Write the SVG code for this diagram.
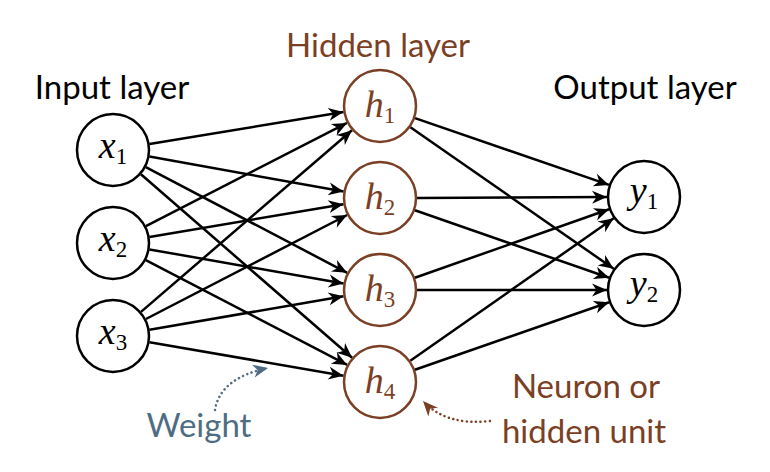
<svg xmlns="http://www.w3.org/2000/svg" width="770" height="472" viewBox="0 0 770 472">
<defs>
<style>
.lbl{font-family:Lato,"Open Sans","Liberation Sans",sans-serif;font-size:33px}
.n{fill:#fff;stroke:#000;stroke-width:2.5}
.hn{fill:#fff;stroke:#7b3f24;stroke-width:2.5}
.e{stroke:#000;stroke-width:2.5;fill:none;marker-end:url(#ah)}
.brown{fill:#7b3f24}
.blue{fill:#4f6d82}
.m{font-family:"Liberation Serif","Times New Roman",serif;font-size:38px;text-anchor:middle}
.s{font-size:23px;font-style:normal}
</style>
<marker id="ah" markerUnits="userSpaceOnUse" viewBox="-16 -8 17 16" refX="0" refY="0" markerWidth="17" markerHeight="16" orient="auto">
<path d="M0,0 L-15,-6.5 L-10.5,0 L-15,6.5 Z" fill="#000"/>
</marker>
<marker id="ahb" markerUnits="userSpaceOnUse" viewBox="-16 -8 17 16" refX="0" refY="0" markerWidth="17" markerHeight="16" orient="auto">
<path d="M0,0 L-15,-6.5 L-10.5,0 L-15,6.5 Z" fill="#4f6d82"/>
</marker>
<marker id="ahr" markerUnits="userSpaceOnUse" viewBox="-16 -8 17 16" refX="0" refY="0" markerWidth="17" markerHeight="16" orient="auto">
<path d="M0,0 L-15,-6.5 L-10.5,0 L-15,6.5 Z" fill="#7b3f24"/>
</marker>
</defs>
<rect width="770" height="472" fill="#fff"/>
<g id="connectors">
<line class="e" x1="149.5" y1="144.0" x2="343.5" y2="112.0"/>
<line class="e" x1="149.4" y1="156.6" x2="343.6" y2="191.5"/>
<line class="e" x1="145.8" y1="167.2" x2="347.2" y2="272.8"/>
<line class="e" x1="140.9" y1="174.3" x2="352.1" y2="357.7"/>
<line class="e" x1="145.9" y1="226.1" x2="347.1" y2="122.9"/>
<line class="e" x1="149.5" y1="236.9" x2="343.5" y2="204.2"/>
<line class="e" x1="149.4" y1="249.4" x2="343.6" y2="283.6"/>
<line class="e" x1="145.8" y1="260.1" x2="347.2" y2="364.9"/>
<line class="e" x1="141.0" y1="311.9" x2="352.0" y2="130.2"/>
<line class="e" x1="145.9" y1="319.0" x2="347.1" y2="215.0"/>
<line class="e" x1="149.5" y1="329.7" x2="343.5" y2="296.3"/>
<line class="e" x1="149.5" y1="342.3" x2="343.5" y2="375.7"/>
<line class="e" x1="415.0" y1="118.1" x2="609.0" y2="184.9"/>
<line class="e" x1="410.4" y1="127.2" x2="613.7" y2="268.8"/>
<line class="e" x1="417" y1="197.9" x2="607" y2="197.1"/>
<line class="e" x1="414.9" y1="210.2" x2="609.1" y2="277.8"/>
<line class="e" x1="414.9" y1="277.7" x2="609.1" y2="209.3"/>
<line class="e" x1="417" y1="290" x2="607" y2="290"/>
<line class="e" x1="410.3" y1="360.8" x2="613.7" y2="218.2"/>
<line class="e" x1="414.9" y1="369.8" x2="609.1" y2="302.2"/>
<path d="M215,410 Q220,378 268,368" fill="none" stroke="#4f6d82" stroke-width="2.5" stroke-dasharray="0.1 4.5" stroke-linecap="round" marker-end="url(#ahb)"/>
<path d="M490,421 Q446,426 423,401" fill="none" stroke="#7b3f24" stroke-width="2.5" stroke-dasharray="0.1 4.5" stroke-linecap="round" marker-end="url(#ahr)"/>
</g>
<g id="x1"><circle class="n" cx="113" cy="150" r="36"/><text class="m" x="113" y="158"><tspan font-style="italic">x</tspan><tspan class="s" dy="6">1</tspan></text></g>
<g id="x2"><circle class="n" cx="113" cy="243" r="36"/><text class="m" x="113" y="251"><tspan font-style="italic">x</tspan><tspan class="s" dy="6">2</tspan></text></g>
<g id="x3"><circle class="n" cx="113" cy="336" r="36"/><text class="m" x="113" y="344"><tspan font-style="italic">x</tspan><tspan class="s" dy="6">3</tspan></text></g>
<g id="h1"><circle class="hn" cx="380" cy="106" r="36"/><text class="m brown" x="380" y="117"><tspan font-style="italic">h</tspan><tspan class="s" dy="6">1</tspan></text></g>
<g id="h2"><circle class="hn" cx="380" cy="198" r="36"/><text class="m brown" x="380" y="209"><tspan font-style="italic">h</tspan><tspan class="s" dy="6">2</tspan></text></g>
<g id="h3"><circle class="hn" cx="380" cy="290" r="36"/><text class="m brown" x="380" y="301"><tspan font-style="italic">h</tspan><tspan class="s" dy="6">3</tspan></text></g>
<g id="h4"><circle class="hn" cx="380" cy="382" r="36"/><text class="m brown" x="380" y="393"><tspan font-style="italic">h</tspan><tspan class="s" dy="6">4</tspan></text></g>
<g id="y1"><circle class="n" cx="644" cy="197" r="36"/><text class="m" x="644" y="203"><tspan font-style="italic">y</tspan><tspan class="s" dy="6">1</tspan></text></g>
<g id="y2"><circle class="n" cx="644" cy="290" r="36"/><text class="m" x="644" y="296"><tspan font-style="italic">y</tspan><tspan class="s" dy="6">2</tspan></text></g>
<g id="labels">
<text class="lbl" x="112" y="99" text-anchor="middle">Input layer</text>
<text class="lbl brown" x="378" y="57" text-anchor="middle">Hidden layer</text>
<text class="lbl" x="645" y="99" text-anchor="middle">Output layer</text>
<text class="lbl blue" x="199" y="437" text-anchor="middle">Weight</text>
<text class="lbl brown" x="586" y="398" text-anchor="middle">Neuron or</text>
<text class="lbl brown" x="584" y="443" text-anchor="middle">hidden unit</text>
</g>
</svg>
